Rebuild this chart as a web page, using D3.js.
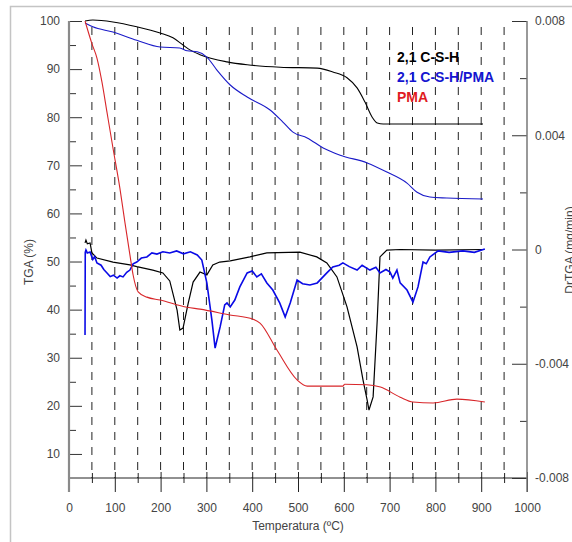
<!DOCTYPE html>
<html>
<head>
<meta charset="utf-8">
<script src="https://cdn.jsdelivr.net/npm/d3@7"></script>
<style>
  body { margin: 0; background: #fff; }
  svg { display: block; font-family: "Liberation Sans", Arial, sans-serif; }
</style>
</head>
<body>
<svg id="chart" width="572" height="542"></svg>
<script>
// TGA curves, [temperature ºC, mass %]
var tgaCSH = [[35,100],[52,100.2],[96,99.8],[148,98.8],[199,97.5],[227,96.5],[249,95],[264,94],[286,93],
  [345,91.5],[389,90.9],[461,90.4],[542,90.2],[576,89.4],[607,88.2],[629,86.1],[646,83.2],[662,80],
  [673,78.8],[686,78.6],[904,78.6]];
var tgaCSHPMA = [[35,99.6],[52,98.8],[96,97.7],[148,96],[199,94.6],[242,94.4],[258,93.8],[280,93.6],[301,92.5],
  [323,89.8],[352,86.7],[389,84.2],[439,81.5],[467,79],[489,76.9],[520,75.7],[555,73.6],[592,72.1],
  [651,70.5],[694,68.6],[738,66.3],[760,64.4],[788,63.4],[825,63.2],[904,63]];
var tgaPMA = [[35,100],[50,95.3],[61,92.3],[72,87.3],[83,81],[96,73.6],[111,65.3],[122,58.2],[133,51.4],
  [140,47.2],[151,43.7],[170,42.6],[199,42],[258,40.5],[286,40.1],[351,38.9],[402,38],[417,37.2],
  [454,31.6],[498,25.4],[520,24.1],[598,24.1],[602,24.5],[650,24.4],[680,23.9],[723,21.8],[751,20.8],
  [795,20.6],[847,21.4],[908,20.8]];

// DrTGA curves, [temperature ºC, mg/min x 0.001]
var dtgCSH = [[35,0.23],[37,0.33],[40,0.2],[46,0.23],[50,-0.12],[61,-0.3],[96,-0.44],[133,-0.54],[148,-0.6],
  [183,-0.72],[205,-0.82],[220,-1.1],[236,-2.12],[242,-2.82],[249,-2.75],[260,-1.9],[271,-1.14],
  [286,-0.79],[301,-0.89],[314,-0.54],[329,-0.44],[352,-0.4],[395,-0.26],[432,-0.12],[504,-0.09],
  [541,-0.26],[563,-0.47],[585,-0.96],[607,-2.01],[629,-3.41],[642,-4.57],[651,-5.27],[655,-5.62],
  [664,-5.16],[673,-2.47],[679,-0.26],[694,-0.02],[723,0.0],[800,-0.02],[904,0.0]];
var dtgCSHPMA = [[35,-2.99],[35.5,-0.1],[37,-0.02],[40,-0.12],[46,-0.09],[52,-0.35],[56,-0.25],[61,-0.47],
  [70,-0.55],[76,-0.7],[83,-0.82],[90,-0.95],[97,-0.9],[105,-1.0],[111,-0.92],[118,-0.96],[126,-0.8],
  [133,-0.72],[140,-0.5],[148,-0.44],[158,-0.3],[170,-0.26],[181,-0.12],[192,-0.16],[205,-0.08],
  [220,-0.12],[235,-0.05],[250,-0.15],[265,-0.08],[280,-0.19],[290,-0.37],[301,-1.17],[312,-2.47],
  [319,-3.45],[330,-2.71],[340,-1.94],[345,-1.87],[352,-2.01],[362,-1.77],[373,-1.31],[389,-0.82],
  [400,-0.75],[410,-0.96],[420,-0.85],[432,-1.17],[445,-1.42],[460,-1.87],[472,-2.36],[483,-1.87],
  [498,-1.07],[510,-1.2],[526,-1.24],[542,-1.17],[563,-0.82],[576,-0.61],[590,-0.55],[598,-0.47],
  [612,-0.6],[629,-0.72],[640,-0.55],[657,-0.72],[670,-0.62],[679,-0.82],[692,-0.7],[701,-0.79],
  [707,-1.0],[716,-0.72],[723,-1.17],[738,-1.42],[751,-1.84],[756,-1.6],[762,-1.31],[773,-0.44],
  [780,-0.5],[788,-0.26],[806,-0.05],[830,-0.1],[860,-0.05],[885,-0.1],[908,0.02]];

var xTicks = [0, 100, 200, 300, 400, 500, 600, 700, 800, 900, 1000];
var xMinor = [50, 150, 250, 350, 450, 550, 650, 750, 850, 950];
var yLTicks = [10, 20, 30, 40, 50, 60, 70, 80, 90, 100];
var yLMinor = [15, 25, 35, 45, 55, 65, 75, 85, 95];
var yRTicks = [0.008, 0.004, 0, -0.004, -0.008];
var yRMinor = [0.006, 0.002, -0.002, -0.006];

var legendNames = ["2,1 C-S-H", "2,1 C-S-H/PMA", "PMA"];
var legendColors = ["#000000", "#1515d0", "#e01b22"];

var svg = d3.select("#chart");

var x = d3.scaleLinear().domain([0, 1000]).range([69, 527]);
var yL = d3.scaleLinear().domain([5, 100]).range([478, 21]);
var yR = d3.scaleLinear().domain([-0.008, 0.008]).range([478, 21]);

// outer frame
svg.append("rect").attr("x", 10.5).attr("y", 6.5).attr("width", 620).attr("height", 620)
  .attr("fill", "none").attr("stroke", "#c4c4c4").attr("stroke-width", 1.5);

// dashed verticals
svg.append("g").selectAll("line").data(xMinor.concat(xTicks.slice(1, 10))).enter().append("line")
  .attr("x1", function(d){ return x(d); }).attr("x2", function(d){ return x(d); })
  .attr("y1", 27).attr("y2", yL(5))
  .attr("stroke", "#222").attr("stroke-width", 1).attr("stroke-dasharray", "8,7");

// bottom axis
var gx = svg.append("g").attr("transform", "translate(0," + yL(5) + ")")
  .call(d3.axisBottom(x).tickValues(xTicks).tickSize(14).tickPadding(11).tickFormat(d3.format("d")));
gx.select(".domain").remove();
gx.selectAll(".tick line").attr("y1", -6).attr("stroke", "#222");
gx.selectAll(".tick text").attr("font-size", 12).attr("fill", "#444").attr("font-family", "Liberation Sans, Arial");
var gxm = svg.append("g").attr("transform", "translate(0," + yL(5) + ")")
  .call(d3.axisBottom(x).tickValues(xMinor).tickSize(5).tickFormat(""));
gxm.select(".domain").remove();
gxm.selectAll(".tick line").attr("y1", -5).attr("stroke", "#222");
svg.append("line").attr("x1", x(0)).attr("x2", x(1000)).attr("y1", yL(5)).attr("y2", yL(5))
  .attr("stroke", "#222").attr("stroke-width", 1);

// left axis
var gl = svg.append("g").attr("transform", "translate(" + x(0) + ",0)")
  .call(d3.axisLeft(yL).tickValues(yLTicks).tickSize(-13).tickPadding(9));
gl.select(".domain").remove();
gl.selectAll(".tick line").attr("stroke", "#333");
gl.selectAll(".tick text").attr("font-size", 12).attr("fill", "#444").attr("font-family", "Liberation Sans, Arial");
var glm = svg.append("g").attr("transform", "translate(" + x(0) + ",0)")
  .call(d3.axisLeft(yL).tickValues(yLMinor).tickSize(-7).tickFormat(""));
glm.select(".domain").remove();
glm.selectAll(".tick line").attr("stroke", "#333");
svg.append("line").attr("x1", x(0)).attr("x2", x(0)).attr("y1", yL(100)).attr("y2", yL(5) + 14)
  .attr("stroke", "#8a8a8a").attr("stroke-width", 2.2);

// right axis
var gr = svg.append("g").attr("transform", "translate(" + x(1000) + ",0)")
  .call(d3.axisRight(yR).tickValues(yRTicks).tickSize(-15).tickPadding(8)
    .tickFormat(function(d){ return d === 0 ? "0" : d.toFixed(3); }));
gr.select(".domain").remove();
gr.selectAll(".tick line").attr("stroke", "#333");
gr.selectAll(".tick text").attr("font-size", 12).attr("fill", "#444").attr("font-family", "Liberation Sans, Arial");
var grm = svg.append("g").attr("transform", "translate(" + x(1000) + ",0)")
  .call(d3.axisRight(yR).tickValues(yRMinor).tickSize(-7).tickFormat(""));
grm.select(".domain").remove();
grm.selectAll(".tick line").attr("stroke", "#333");
svg.append("line").attr("x1", x(1000)).attr("x2", x(1000)).attr("y1", yR(0.008)).attr("y2", yR(-0.008) + 14)
  .attr("stroke", "#777").attr("stroke-width", 1.5);

// titles
svg.append("text").attr("transform", "translate(33,262) rotate(-90)").attr("text-anchor", "middle")
  .attr("font-size", 12).attr("fill", "#444").text("TGA (%)");
svg.append("text").attr("x", 298).attr("y", 530).attr("text-anchor", "middle")
  .attr("font-size", 12).attr("fill", "#444").text("Temperatura (ºC)");
svg.append("text").attr("transform", "translate(574,250) rotate(-90)").attr("text-anchor", "middle")
  .attr("font-size", 12).attr("fill", "#444").text("DrTGA (mg/min)");

// curves
var lineL = d3.line().x(function(d){ return x(d[0]); }).y(function(d){ return yL(d[1]); }).curve(d3.curveMonotoneX);
var lineR = d3.line().x(function(d){ return x(d[0]); }).y(function(d){ return yR(d[1] / 1000); });

svg.append("path").datum(dtgCSH).attr("d", lineR).attr("fill", "none").attr("stroke", "#000").attr("stroke-width", 1.2);
svg.append("path").datum(dtgCSHPMA).attr("d", lineR).attr("fill", "none").attr("stroke", "#0a0ae6").attr("stroke-width", 1.6);
svg.append("path").datum(tgaCSH).attr("d", lineL).attr("fill", "none").attr("stroke", "#000").attr("stroke-width", 1.1);
svg.append("path").datum(tgaCSHPMA).attr("d", lineL).attr("fill", "none").attr("stroke", "#1a1ac8").attr("stroke-width", 1.1);
svg.append("path").datum(tgaPMA).attr("d", lineL).attr("fill", "none").attr("stroke", "#d8262a").attr("stroke-width", 1.1);

// legend
svg.append("g").selectAll("text").data(legendNames).enter().append("text")
  .attr("x", 397).attr("y", function(d, i){ return 62 + i * 20; })
  .attr("font-size", 14).attr("font-weight", "bold")
  .attr("fill", function(d, i){ return legendColors[i]; })
  .text(function(d){ return d; });
</script>
</body>
</html>
